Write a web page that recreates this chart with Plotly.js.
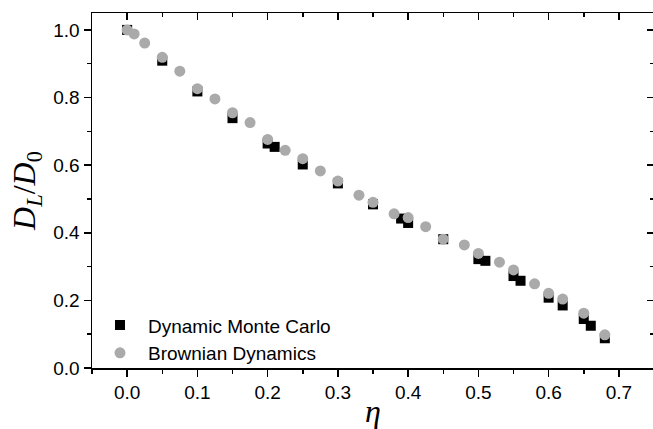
<!DOCTYPE html>
<html>
<head>
<meta charset="utf-8">
<script src="https://cdn.plot.ly/plotly-3.0.1.min.js"></script>
<style>html,body{margin:0;padding:0;overflow:hidden;background:#fff}</style>
</head>
<body>
<div id="chart"></div>
<script>
// Dynamic Monte Carlo
var mcEta = [0, 0.05, 0.1, 0.15, 0.2, 0.21, 0.25, 0.3, 0.35, 0.39, 0.4, 0.45, 0.5, 0.51, 0.55, 0.56, 0.6, 0.62, 0.65, 0.66, 0.68];
var mcD   = [1.0, 0.909, 0.818, 0.739, 0.664, 0.654, 0.602, 0.546, 0.484, 0.442, 0.429, 0.381, 0.322, 0.317, 0.272, 0.258, 0.208, 0.185, 0.145, 0.125, 0.088];
// Brownian Dynamics
var bdEta = [0, 0.01, 0.025, 0.05, 0.075, 0.1, 0.125, 0.15, 0.175, 0.2, 0.225, 0.25, 0.275, 0.3, 0.33, 0.35, 0.38, 0.4, 0.425, 0.45, 0.48, 0.5, 0.53, 0.55, 0.58, 0.6, 0.62, 0.65, 0.68];
var bdD   = [1.0, 0.988, 0.961, 0.919, 0.878, 0.826, 0.796, 0.755, 0.726, 0.676, 0.644, 0.619, 0.583, 0.553, 0.511, 0.490, 0.456, 0.445, 0.418, 0.381, 0.364, 0.339, 0.313, 0.290, 0.249, 0.221, 0.204, 0.162, 0.098];

var xTickVals = [0, 0.1, 0.2, 0.3, 0.4, 0.5, 0.6, 0.7];
var yTickVals = [0, 0.2, 0.4, 0.6, 0.8, 1.0];

var tickFont = {family: 'Liberation Sans, Arial, sans-serif', size: 19, color: '#000'};
var legendFont = {family: 'Liberation Sans, Arial, sans-serif', size: 19, color: '#000'};
var titleFont = {family: 'Liberation Serif, Times New Roman, serif', size: 32, color: '#000'};

var traces = [
  {x: mcEta, y: mcD, mode: 'markers', type: 'scatter', name: 'Dynamic Monte Carlo',
   marker: {symbol: 'square', size: 10, color: '#000'}},
  {x: bdEta, y: bdD, mode: 'markers', type: 'scatter', name: 'Brownian Dynamics',
   marker: {symbol: 'circle', size: 11, color: 'rgb(170,170,170)'}},
  {x: [], y: [], xaxis: 'x2', yaxis: 'y2', showlegend: false, hoverinfo: 'skip', type: 'scatter'}
];

var common = {showgrid: false, zeroline: false, showline: true, linecolor: '#000', linewidth: 1.5,
  tickcolor: '#000', tickwidth: 1.5, ticklen: 7};

var layout = {
  width: 654, height: 429,
  margin: {l: 92, r: 0, t: 13, b: 61},
  paper_bgcolor: '#fff', plot_bgcolor: '#fff',
  showlegend: true,
  legend: {x: 0.0, y: -0.012, xanchor: 'left', yanchor: 'bottom', font: legendFont,
    bgcolor: 'rgba(0,0,0,0)', itemwidth: 46, tracegroupgap: 0},
  xaxis: Object.assign({}, common, {
    range: [-0.05, 0.75], tickmode: 'array', tickvals: xTickVals, tickformat: '.1f',
    ticks: 'outside', tickfont: tickFont,
    minor: {dtick: 0.05, tick0: 0, ticks: 'outside', ticklen: 4, tickwidth: 1.5, tickcolor: '#000', showgrid: false},
    title: {text: '<i>η</i>', font: titleFont, standoff: 13}
  }),
  yaxis: Object.assign({}, common, {
    range: [0, 1.05], tickmode: 'array', tickvals: yTickVals, tickformat: '.1f',
    ticks: 'outside', tickfont: tickFont,
    minor: {dtick: 0.1, tick0: 0, ticks: 'outside', ticklen: 4, tickwidth: 1.5, tickcolor: '#000', showgrid: false},
    title: {text: '<i>D</i><sub><i>L</i></sub>/<i>D</i><sub>0</sub>', font: titleFont, standoff: 8}
  }),
  xaxis2: Object.assign({}, common, {
    overlaying: 'x', side: 'top', anchor: 'y2', range: [-0.05, 0.75], tickmode: 'array', tickvals: xTickVals,
    ticks: 'inside', showticklabels: false,
    minor: {dtick: 0.05, tick0: 0, ticks: 'inside', ticklen: 4, tickwidth: 1.5, tickcolor: '#000', showgrid: false}
  }),
  yaxis2: Object.assign({}, common, {
    overlaying: 'y', side: 'right', anchor: 'x2', range: [0, 1.05], tickmode: 'array', tickvals: yTickVals,
    ticks: 'inside', showticklabels: false,
    minor: {dtick: 0.1, tick0: 0, ticks: 'inside', ticklen: 4, tickwidth: 1.5, tickcolor: '#000', showgrid: false}
  })
};

Plotly.newPlot('chart', traces, layout, {displayModeBar: false, staticPlot: true});
</script>
</body>
</html>
